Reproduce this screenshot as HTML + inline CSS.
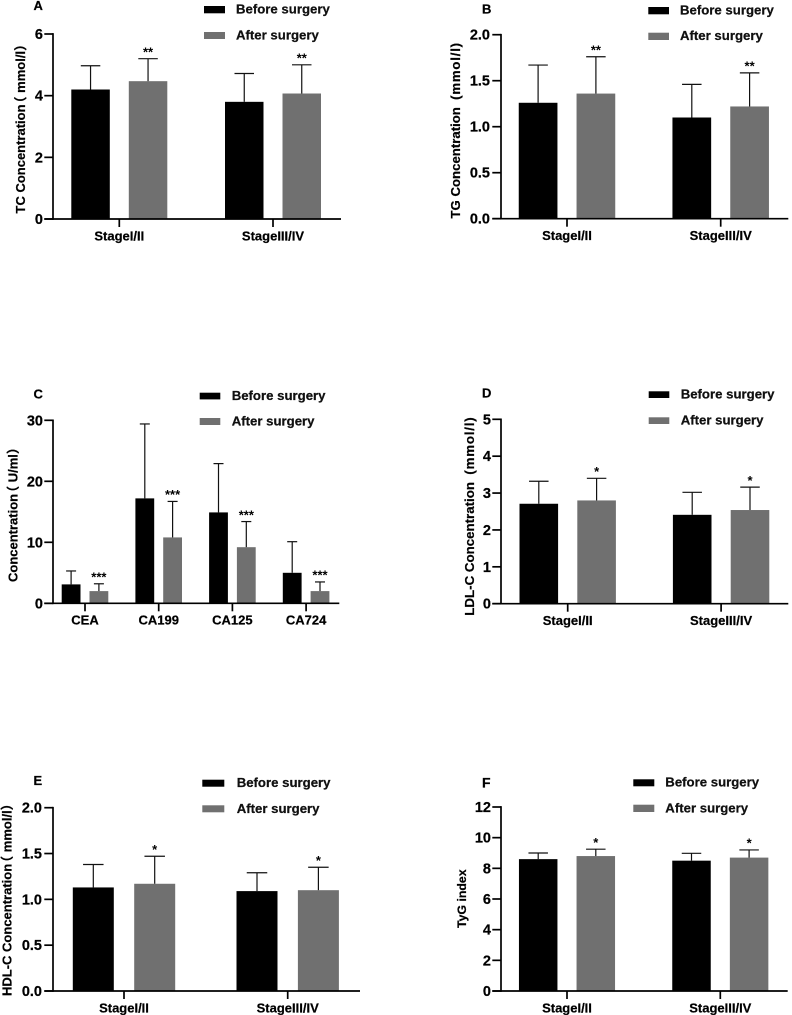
<!DOCTYPE html>
<html lang="en">
<head>
<meta charset="utf-8">
<title>Before and after surgery bar charts</title>
<style>
html,body{margin:0;padding:0;background:#fff;}
body{width:792px;height:1015px;overflow:hidden;}
svg{display:block;filter:blur(0.35px);}
text{font-family:"Liberation Sans","Noto Sans CJK SC",sans-serif;font-weight:bold;fill:#000;white-space:pre;stroke:#000;stroke-width:0.22px;}
.legend{font-size:13.2px;fill:#111;}
.letter{font-size:13px;}
.ylabel{font-size:13px;}
</style>
</head>
<body>
<svg id="figure" xmlns="http://www.w3.org/2000/svg" width="792" height="1015" viewBox="0 0 792 1015">
  <g id="panel-a">
    <text class="letter" x="33.5" y="10">A</text>
    <text class="ylabel" transform="translate(25,213.5) rotate(-90)">TC Concentration<tspan dx="-5">（ mmol/l）</tspan></text>
    <rect x="204" y="6" width="21" height="7.3" fill="#000"/>
    <text class="legend" x="236" y="13.7">Before surgery</text>
    <rect x="204" y="32" width="21" height="7" fill="#707070"/>
    <text class="legend" x="236" y="39.3">After surgery</text>
  </g>
  <g id="panel-b">
    <text class="letter" x="482" y="13.3">B</text>
    <text class="ylabel" style="font-size:13.2px" transform="translate(460,218.5) rotate(-90)">TG Concentration  <tspan style="letter-spacing:0.8px">(mmol/l)</tspan></text>
    <rect x="648.3" y="7" width="20.7" height="7.3" fill="#000"/>
    <text class="legend" x="680" y="14.7">Before surgery</text>
    <rect x="648.3" y="32.7" width="20.7" height="7.3" fill="#707070"/>
    <text class="legend" x="680" y="40">After surgery</text>
  </g>
  <g id="panel-c">
    <text class="letter" x="33.5" y="398.3">C</text>
    <text class="ylabel" transform="translate(17.5,582) rotate(-90)">Concentration<tspan dx="-5">（ U/ml）</tspan></text>
    <rect x="199.7" y="392.7" width="20.6" height="6.7" fill="#000"/>
    <text class="legend" x="231.7" y="400">Before surgery</text>
    <rect x="199.7" y="418" width="20.6" height="7" fill="#707070"/>
    <text class="legend" x="231.7" y="425.7">After surgery</text>
  </g>
  <g id="panel-d">
    <text class="letter" x="482" y="397.7">D</text>
    <text class="ylabel" style="font-size:13.3px" transform="translate(474,615.7) rotate(-90)">LDL-C Concentration  <tspan style="letter-spacing:0.8px">(mmol/l)</tspan></text>
    <rect x="648.7" y="391.3" width="20.6" height="6.7" fill="#000"/>
    <text class="legend" x="680.7" y="398.7">Before surgery</text>
    <rect x="648.7" y="417.3" width="20.6" height="6.7" fill="#707070"/>
    <text class="legend" x="680.7" y="424.7">After surgery</text>
  </g>
  <g id="panel-e">
    <text class="letter" x="33.5" y="785">E</text>
    <text class="ylabel" transform="translate(11.5,996) rotate(-90)">HDL-C Concentration<tspan dx="-5">（ mmol/l）</tspan></text>
    <rect x="202.3" y="779.7" width="22" height="7" fill="#000"/>
    <text class="legend" x="236.7" y="787">Before surgery</text>
    <rect x="202.3" y="805.3" width="22" height="7" fill="#707070"/>
    <text class="legend" x="236.7" y="813">After surgery</text>
  </g>
  <g id="panel-f">
    <text class="letter" x="482" y="787.7" style="font-size:14px">F</text>
    <text class="ylabel" transform="translate(466,898.7) rotate(-90)" text-anchor="middle" style="font-size:12.3px">TyG index</text>
    <rect x="633.3" y="779.3" width="21" height="7" fill="#000"/>
    <text class="legend" x="665.3" y="786.7">Before surgery</text>
    <rect x="633.3" y="804.7" width="21" height="7.3" fill="#707070"/>
    <text class="legend" x="665.3" y="812.3">After surgery</text>
  </g>
</svg>
<script>
// ---- Chart data ----
const stageCategories = ['StageI/II', 'StageIII/IV'];
const markerCategories = ['CEA', 'CA199', 'CA125', 'CA724'];

const tcBefore = [4.2, 3.8];
const tcAfter = [4.47, 4.07];
const tcBeforeUpper = [4.97, 4.72];
const tcAfterUpper = [5.2, 5.0];
const tcTicks = ['0', '2', '4', '6'];
const tcStars = ['**', '**'];

const tgBefore = [1.26, 1.10];
const tgAfter = [1.36, 1.22];
const tgBeforeUpper = [1.67, 1.46];
const tgAfterUpper = [1.76, 1.585];
const tgTicks = ['0.0', '0.5', '1.0', '1.5', '2.0'];
const tgStars = ['**', '**'];

const markerBefore = [3.1, 17.2, 14.9, 5.0];
const markerAfter = [2.0, 10.8, 9.2, 2.0];
const markerBeforeUpper = [5.3, 29.4, 22.9, 10.1];
const markerAfterUpper = [3.2, 16.7, 13.4, 3.5];
const markerTicks = ['0', '10', '20', '30'];
const markerStars = ['***', '***', '***', '***'];

const ldlBefore = [2.71, 2.41];
const ldlAfter = [2.80, 2.54];
const ldlBeforeUpper = [3.32, 3.02];
const ldlAfterUpper = [3.40, 3.16];
const ldlTicks = ['0', '1', '2', '3', '4', '5'];
const ldlStars = ['*', '*'];

const hdlBefore = [1.13, 1.09];
const hdlAfter = [1.17, 1.10];
const hdlBeforeUpper = [1.38, 1.29];
const hdlAfterUpper = [1.47, 1.35];
const hdlTicks = ['0.0', '0.5', '1.0', '1.5', '2.0'];
const hdlStars = ['*', '*'];

const tygBefore = [8.6, 8.5];
const tygAfter = [8.8, 8.7];
const tygBeforeUpper = [9.0, 8.98];
const tygAfterUpper = [9.25, 9.2];
const tygTicks = ['0', '2', '4', '6', '8', '10', '12'];
const tygStars = ['*', '*'];

// ---- Panels: bind data to a plot frame ----
const panels = [
  {id:'a', cats:stageCategories, before:tcBefore, after:tcAfter, beforeUp:tcBeforeUpper, afterUp:tcAfterUpper, ticks:tcTicks, stars:tcStars,
   frame:{axisX:53, y0:219, yTop:34, xEnd:341, groupFirst:119.3, groupStep:153.7, barW:38.5, off:28.75, cap:19.5, labelGap:10}},
  {id:'b', cats:stageCategories, before:tgBefore, after:tgAfter, beforeUp:tgBeforeUpper, afterUp:tgAfterUpper, ticks:tgTicks, stars:tgStars,
   frame:{axisX:501, y0:218.7, yTop:34.7, xEnd:788.3, groupFirst:567, groupStep:153.7, barW:38.7, off:28.9, cap:19.5, labelGap:11}},
  {id:'c', cats:markerCategories, before:markerBefore, after:markerAfter, beforeUp:markerBeforeUpper, afterUp:markerAfterUpper, ticks:markerTicks, stars:markerStars,
   frame:{axisX:53, y0:603.3, yTop:420.3, xEnd:339.3, groupFirst:85, groupStep:73.7, barW:18.8, off:13.9, cap:10, labelGap:10}},
  {id:'d', cats:stageCategories, before:ldlBefore, after:ldlAfter, beforeUp:ldlBeforeUpper, afterUp:ldlAfterUpper, ticks:ldlTicks, stars:ldlStars,
   frame:{axisX:501, y0:603.7, yTop:419.3, xEnd:788.3, groupFirst:567.7, groupStep:153.4, barW:38.6, off:28.9, cap:19.5, labelGap:10}},
  {id:'e', cats:stageCategories, before:hdlBefore, after:hdlAfter, beforeUp:hdlBeforeUpper, afterUp:hdlAfterUpper, ticks:hdlTicks, stars:hdlStars,
   frame:{axisX:53, y0:991, yTop:807.7, xEnd:360, groupFirst:124, groupStep:163.7, barW:41, off:30.7, cap:20.5, labelGap:11}},
  {id:'f', cats:stageCategories, before:tygBefore, after:tygAfter, beforeUp:tygBeforeUpper, afterUp:tygAfterUpper, ticks:tygTicks, stars:tygStars,
   frame:{axisX:501, y0:991, yTop:807, xEnd:787.7, groupFirst:567, groupStep:153.3, barW:38.5, off:28.8, cap:19.5, labelGap:10}}
];

const NS = 'http://www.w3.org/2000/svg';
const BEFORE_COLOR = '#000000';
const AFTER_COLOR = '#707070';

function make(tag, props, parent) {
  const el = document.createElementNS(NS, tag);
  for (const k in props) el.setAttribute(k, props[k]);
  parent.appendChild(el);
  return el;
}

function drawBar(g, frame, cx, value, upper, color, yScale, seriesName) {
  const bar = make('rect', {x: cx - frame.barW / 2, y: yScale(value), width: frame.barW, height: frame.y0 - yScale(value), fill: color}, g);
  
  
  const stem = make('line', {x1: cx, x2: cx, y1: yScale(value), y2: yScale(upper), stroke: '#111', 'stroke-width': 1.2}, g);
  
  
  const cap = make('line', {x1: cx - frame.cap / 2, x2: cx + frame.cap / 2, y1: yScale(upper), y2: yScale(upper), stroke: '#111', 'stroke-width': 1.2}, g);
  
  
}

panels.forEach(function (p) {
  const g = document.getElementById('panel-' + p.id);
  const f = p.frame;
  const tickValues = p.ticks.map(Number);
  const yMax = Math.max.apply(null, tickValues);
  const yScale = function (v) { return f.y0 - (v / yMax) * (f.y0 - f.yTop); };
  const xScale = function (i) { return f.groupFirst + i * f.groupStep; };

  p.cats.forEach(function (cat, i) {
    const cx = xScale(i);
    drawBar(g, f, cx - f.off, p.before[i], p.beforeUp[i], BEFORE_COLOR, yScale, 'before-' + p.id + '-' + i);
    drawBar(g, f, cx + f.off, p.after[i], p.afterUp[i], AFTER_COLOR, yScale, 'after-' + p.id + '-' + i);

    const star = make('text', {x: cx + f.off, y: yScale(p.afterUp[i]) - 2.3, 'text-anchor': 'middle', style: 'font-size:13px;stroke-width:0'}, g);
    star.textContent = p.stars[i];
    
    

    const tick = make('line', {x1: cx, x2: cx, y1: f.y0, y2: f.y0 + 8, stroke: '#000', 'stroke-width': 1.7}, g);
    
    

    const label = make('text', {x: cx, y: f.y0 + 21.3, 'text-anchor': 'middle', style: 'font-size:13px'}, g);
    label.textContent = cat;
    
    
  });

  const yAxis = make('line', {x1: f.axisX, x2: f.axisX, y1: f.yTop - 0.85, y2: f.y0 + 0.85, stroke: '#000', 'stroke-width': 1.7}, g);
  
  
  const xAxis = make('line', {x1: f.axisX - 8.7, x2: f.xEnd, y1: f.y0, y2: f.y0, stroke: '#000', 'stroke-width': 1.7}, g);
  
  

  p.ticks.forEach(function (t) {
    const y = yScale(Number(t));
    const tick = make('line', {x1: f.axisX - 8.7, x2: f.axisX, y1: y, y2: y, stroke: '#000', 'stroke-width': 1.7}, g);
    
    
    const label = make('text', {x: f.axisX - f.labelGap, y: y + 5, 'text-anchor': 'end', style: 'font-size:14.5px'}, g);
    label.textContent = t;
    
    
  });
});
</script>
</body>
</html>
